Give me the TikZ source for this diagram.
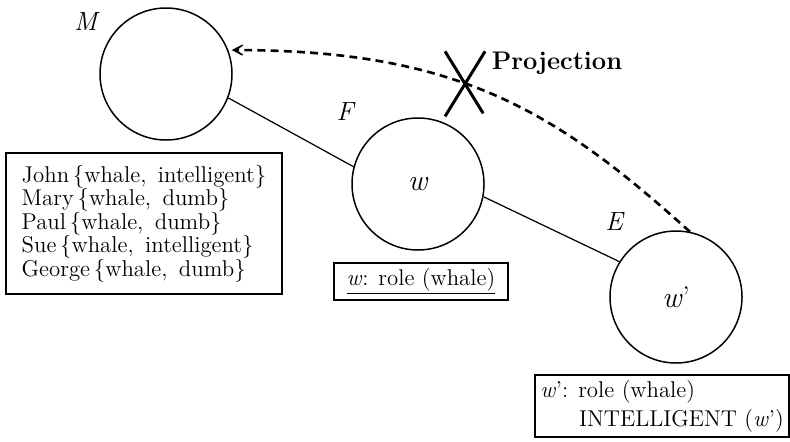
\documentclass[tikz,border=0pt]{standalone}
\usetikzlibrary{arrows.meta,shapes.misc}

\newcommand{\itv}[1]{\textit{#1}}

\begin{document}
\begin{tikzpicture}[
    font=\fontsize{13}{13.4}\selectfont,
    world_style/.style={circle, draw, line width=0.85pt, minimum size=2.64cm, inner sep=0pt, font=\fontsize{17}{18}\selectfont},
    label_style/.style={font=\fontsize{15}{16}\selectfont},
    box_style/.style={draw, line width=0.8pt, inner sep=0pt},
    link_style/.style={line width=0.7pt},
    proj_style/.style={line width=1.5pt, dash pattern=on 4.5pt off 3pt},
    cut_style/.style={cross out, draw, solid, line width=1.7pt, minimum width=0.74cm, minimum height=1.24cm, inner sep=0pt}
]

    \useasboundingbox (0,0) rectangle (15.8,8.82);

    % --- 三个世界 ---
    \node[world_style] (M) at (3.32,7.34) {};
    \node[world_style] (w) at (8.36,5.14) {\itv{w}};
    \node[world_style] (wp) at (13.52,2.88) {\itv{w}'};

    % 标签
    \node[label_style] (labM) at (1.74,8.40) {\itv{M}};
    \node[label_style] (labF) at (6.92,6.58) {\itv{F}};
    \node[label_style] (labE) at (12.30,4.38) {\itv{E}};

    % --- 连线 ---
    \draw[link_style] (M.-21) -- (w.165);
    \draw[link_style] (w.-11) -- (wp.148);

    % --- 说明框 ---
    \node[box_style, align=left, minimum width=5.52cm, minimum height=2.82cm] (facts) at (2.88,4.35)
        {John\,\{whale,\enspace intelligent\}\\
         Mary\,\{whale,\enspace dumb\}\\
         Paul\,\{whale,\enspace dumb\}\\
         Sue\,\{whale,\enspace intelligent\}\\
         George\,\{whale,\enspace dumb\}};

    \node[box_style, minimum width=3.48cm, minimum height=0.74cm] (wbox) at (8.42,3.19)
        {\underline{\itv{w}: role\ (whale)}};

    \node[box_style, font=\fontsize{13}{16.5}\selectfont, align=left, minimum width=5.08cm, minimum height=1.24cm] (wpbox) at (13.24,0.70)
        {\itv{w}': role\ (whale)\\
         \hspace*{1.7em}INTELLIGENT\ (\itv{w}')};

    % --- 投射 (被否定) ---
    \draw[proj_style, -{Stealth[length=0.36cm, width=0.38cm, inset=0.26cm]}, shorten >=2pt]
        (wp.78) .. controls +(138:3.6) and +(0:4.6) .. (M.21)
        node[cut_style, pos=0.57] (cut) {};

    \node[font=\fontsize{14.5}{16}\selectfont\bfseries] (projlab) at (11.14,7.56) {Projection};

\end{tikzpicture}
\end{document}
